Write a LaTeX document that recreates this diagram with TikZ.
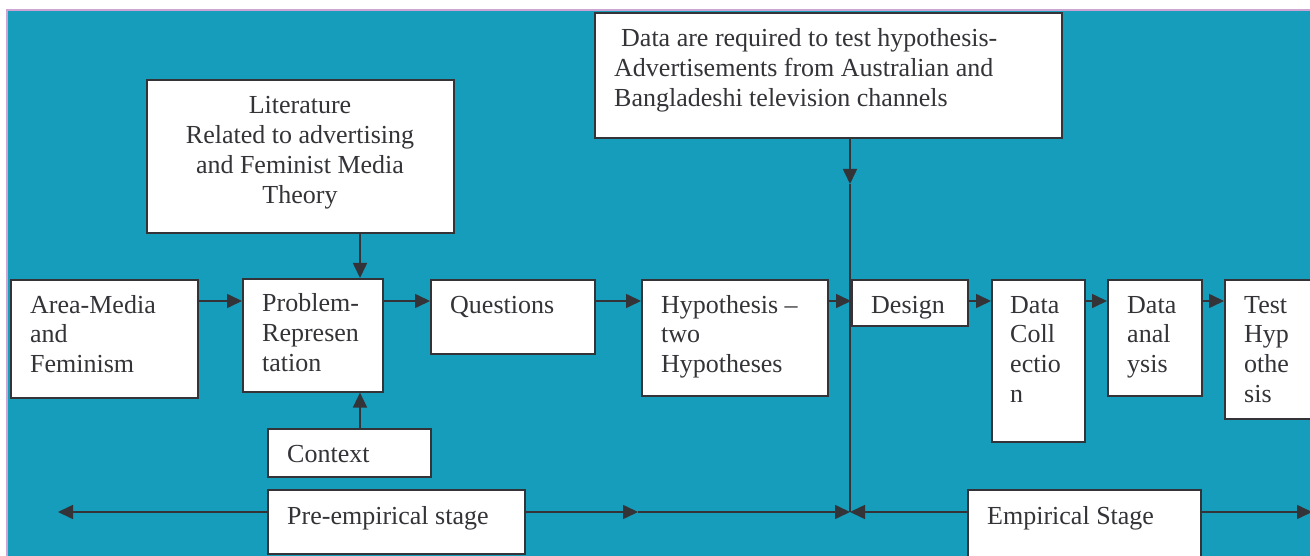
\documentclass[tikz,border=0pt]{standalone}
\usepackage{fontspec}
\setmainfont{Liberation Serif}
\usetikzlibrary{arrows.meta}
\definecolor{bg}{RGB}{21,157,187}
\definecolor{ink}{RGB}{51,51,56}
\definecolor{edgepink}{RGB}{205,165,210}
\newcommand{\boxtext}[1]{\parbox[t]{460pt}{\raggedright #1}}
\newcommand{\ctrtext}[1]{\parbox[t]{300pt}{\centering #1}}
\begin{document}
\begin{tikzpicture}[x=1pt,y=-1pt,
  box/.style={draw=ink, fill=white, line width=1.6pt, inner sep=0pt, anchor=north west},
  txt/.style={inner sep=0pt, anchor=base west, text=ink, font=\fontsize{26}{29.7}\selectfont},
  arr/.style={draw=ink, line width=1.6pt, -{Triangle[length=15pt,width=14pt]}},
  ln/.style={draw=ink, line width=1.6pt}]
\useasboundingbox (0,0) rectangle (1310,556);
\fill[white] (0,0) rectangle (1310,556);
\fill[bg] (7,10) rectangle (1310,556);
\draw[edgepink, line width=1.5pt] (7,556) -- (7,10) -- (1310,10);

% boxes
\node[box, minimum width=307pt, minimum height=153pt] (lit) at (146,79) {};
\node[box, minimum width=467pt, minimum height=125pt] (data) at (594,12) {};
\node[box, minimum width=187pt, minimum height=118pt] (area) at (10,279) {};
\node[box, minimum width=140pt, minimum height=113pt] (prob) at (242,278) {};
\node[box, minimum width=164pt, minimum height=74pt] (ques) at (430,279) {};
\node[box, minimum width=186pt, minimum height=116pt] (hyp) at (641,279) {};
\node[box, minimum width=116pt, minimum height=46pt] (design) at (851,279) {};
\node[box, minimum width=93pt, minimum height=162pt] (dc) at (991,279) {};
\node[box, minimum width=94pt, minimum height=116pt] (da) at (1107,279) {};
\node[box, minimum width=110pt, minimum height=139pt] (test) at (1224,279) {};
\node[box, minimum width=163pt, minimum height=48pt] (ctx) at (267,428) {};
\node[box, minimum width=257pt, minimum height=64pt] (pre) at (267,489) {};
\node[box, minimum width=233pt, minimum height=90pt] (emp) at (967,489) {};

% texts
\node[txt, anchor=base] (littext) at (300,114) {\ctrtext{Literature\\Related to advertising\\and Feminist Media\\Theory}};
\node[txt] (datatext) at (614,47) {\boxtext{\hspace*{7pt}Data are required to test hypothesis-\\Advertisements from Australian and\\Bangladeshi television channels}};
\node[txt] (areatext) at ([shift={(20,34)}]area.north west) {\boxtext{Area-Media\\and\\Feminism}};
\node[txt] (probtext) at ([shift={(20,34)}]prob.north west) {\boxtext{Problem-\\Represen\\tation}};
\node[txt] (questext) at ([shift={(20,34)}]ques.north west) {Questions};
\node[txt] (hyptext) at ([shift={(20,34)}]hyp.north west) {\boxtext{Hypothesis --\\two\\Hypotheses}};
\node[txt] (designtext) at ([shift={(20,34)}]design.north west) {Design};
\node[txt] (dctext) at ([shift={(19,34)}]dc.north west) {\boxtext{Data\\Coll\\ectio\\n}};
\node[txt] (datext) at ([shift={(20,34)}]da.north west) {\boxtext{Data\\anal\\ysis}};
\node[txt] (testtext) at ([shift={(20,34)}]test.north west) {\boxtext{Test\\Hyp\\othe\\sis}};
\node[txt] (ctxtext) at ([shift={(20,34)}]ctx.north west) {Context};
\node[txt] (pretext) at ([shift={(20,35)}]pre.north west) {Pre-empirical stage};
\node[txt] (emptext) at ([shift={(20,35)}]emp.north west) {Empirical Stage};

% helper coordinates
\coordinate (row) at (0,301);
\coordinate (cx) at (360,0);
\coordinate (vx) at (850,0);
\coordinate (j) at (850,512);
\coordinate (m) at (850,184);
\coordinate (lend) at (58,512);
\coordinate (mid) at (638,512);
\coordinate (rend) at (1312,512);

% main row arrows
\draw[arr] (area.east |- row) -- (prob.west |- row);
\draw[arr] (prob.east |- row) -- (ques.west |- row);
\draw[arr] (ques.east |- row) -- (hyp.west |- row);
\draw[arr] (hyp.east |- row) -- (design.west |- row);
\draw[arr] (design.east |- row) -- (dc.west |- row);
\draw[arr] (dc.east |- row) -- (da.west |- row);
\draw[arr] (da.east |- row) -- (test.west |- row);

% vertical arrows
\draw[arr] (lit.south -| cx) -- (prob.north -| cx);
\draw[arr] (ctx.north -| cx) -- (prob.south -| cx);
\draw[arr] (data.south -| vx) -- (m);
\draw[ln] (m) -- (j);

% stage line
\draw[arr] (pre.west |- j) -- (lend);
\draw[arr] (pre.east |- j) -- (mid);
\draw[arr] (mid) -- (j);
\draw[arr] (emp.west |- j) -- (j);
\draw[arr] (emp.east |- j) -- (rend);
\end{tikzpicture}
\end{document}
